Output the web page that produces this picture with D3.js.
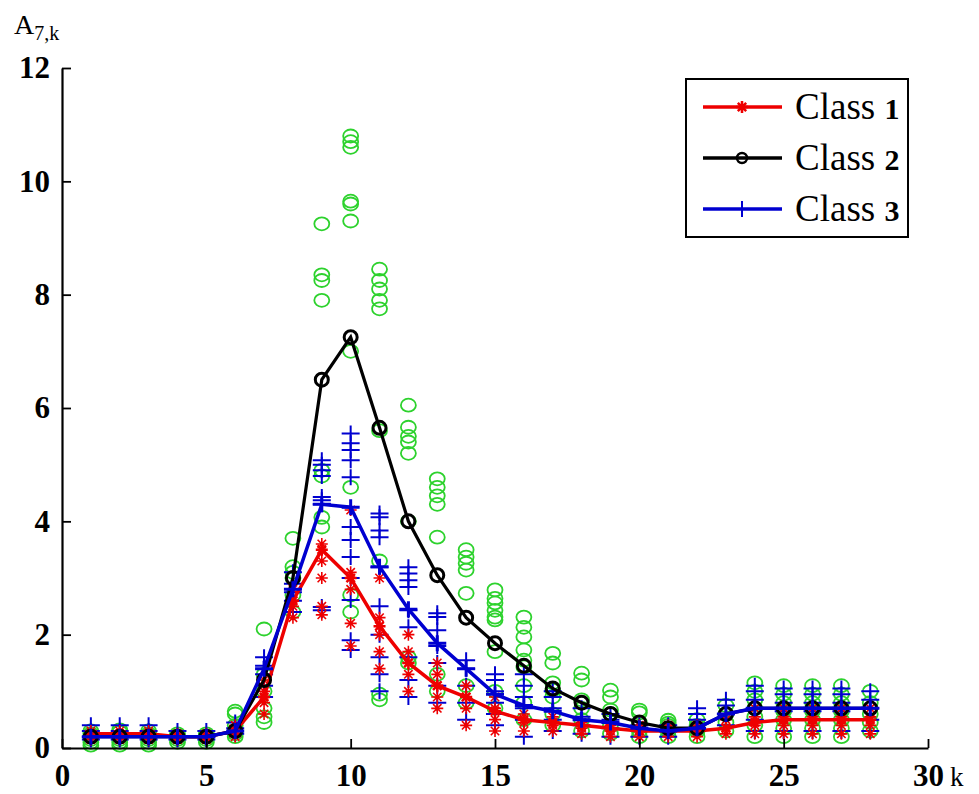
<!DOCTYPE html>
<html>
<head>
<meta charset="utf-8">
<script src="https://cdn.jsdelivr.net/npm/d3@7"></script>
<style>
  body { margin: 0; background: #fff; }
  text { font-family: "Liberation Serif", "DejaVu Serif", serif; }
</style>
</head>
<body>
<div id="chart"></div>
<script>
// k positions
const ks = d3.range(1, 29);

// class means (lines)
const mean1 = [0.25,0.25,0.25,0.2,0.2,0.3,0.9,2.6,3.5,3.0,2.15,1.5,1.1,0.9,0.65,0.5,0.45,0.4,0.35,0.3,0.3,0.3,0.35,0.45,0.5,0.5,0.5,0.5];
const mean2 = [0.2,0.2,0.2,0.2,0.2,0.3,1.2,3.0,6.5,7.25,5.65,4.0,3.05,2.3,1.85,1.45,1.05,0.8,0.6,0.45,0.35,0.35,0.6,0.7,0.7,0.7,0.7,0.7];
const mean3 = [0.2,0.2,0.2,0.2,0.2,0.3,1.4,2.8,4.3,4.25,3.2,2.45,1.85,1.4,0.95,0.75,0.65,0.5,0.45,0.35,0.3,0.35,0.6,0.7,0.7,0.7,0.7,0.7];

// individual samples per k
const samples1 = [
  [0.15,0.25,0.3],[0.15,0.25,0.3],[0.15,0.25,0.3],[0.15,0.2,0.25],[0.15,0.2,0.25],
  [0.2,0.3,0.4],[0.6,0.8,1.0,1.2],[2.3,2.5,2.6,2.8],[2.35,2.5,3.0,3.3,3.6],[1.8,2.2,2.8,3.1,4.2],
  [1.4,1.7,2.0,2.3,3.0],[1.0,1.3,1.5,1.7,2.0],[0.7,0.9,1.1,1.3,1.5],[0.4,0.7,0.9,1.1],[0.3,0.5,0.7,0.9],
  [0.3,0.45,0.6],[0.3,0.4,0.55],[0.25,0.35,0.45],[0.2,0.3,0.4],[0.2,0.3,0.4],
  [0.2,0.3,0.4],[0.2,0.3,0.4],[0.25,0.35,0.5],[0.25,0.4,0.55,0.7],[0.25,0.4,0.55,0.7],
  [0.25,0.4,0.55,0.7],[0.25,0.4,0.55,0.7],[0.25,0.4,0.55,0.7]
];
const samples2 = [
  [0.05,0.1,0.15,0.2,0.25,0.3],[0.05,0.1,0.15,0.2,0.28,0.32],[0.05,0.1,0.15,0.2,0.25,0.3],[0.1,0.15,0.2,0.25],[0.1,0.15,0.2,0.25],
  [0.2,0.25,0.3,0.4,0.6,0.65],[0.45,0.55,0.7,1.0,1.3,2.1],[2.4,2.7,3.0,3.1,3.2,3.7],[3.9,4.07,4.8,4.9,7.9,8.25,8.35,9.25],[2.4,2.7,4.6,7.0,9.3,9.6,9.65,10.6,10.7,10.8],
  [0.85,0.95,3.3,5.6,7.75,7.9,8.1,8.25,8.45],[1.5,1.6,4.0,5.2,5.4,5.5,5.66,6.05],[1.0,1.3,3.72,4.3,4.45,4.6,4.75],[0.8,1.1,2.73,3.14,3.26,3.37,3.5],[0.7,1.0,1.7,2.26,2.31,2.43,2.56,2.64,2.79],
  [0.5,0.8,1.1,1.43,1.55,1.73,1.96,2.13,2.31],[0.4,0.6,0.9,1.02,1.15,1.5,1.67],[0.3,0.5,0.7,0.85,1.2,1.32],[0.25,0.4,0.6,0.67,0.9,1.02],[0.2,0.3,0.45,0.62,0.67],
  [0.2,0.3,0.4,0.44,0.49],[0.2,0.3,0.4,0.5],[0.3,0.45,0.6,0.75],[0.2,0.4,0.55,0.7,0.85,1.0,1.15],[0.2,0.35,0.5,0.65,0.8,0.95,1.1],
  [0.2,0.35,0.5,0.65,0.8,0.95,1.1],[0.2,0.35,0.5,0.65,0.8,0.95,1.1],[0.3,0.45,0.6,0.8,1.0]
];
const samples3 = [
  [0.15,0.2,0.3,0.4],[0.15,0.2,0.3,0.4],[0.15,0.2,0.3,0.4],[0.15,0.2,0.3],[0.15,0.2,0.3],
  [0.25,0.35,0.45],[0.9,1.1,1.3,1.45,1.6],[2.4,2.6,2.75,2.9,3.1],[2.43,2.49,4.3,4.37,4.43,4.8,4.9,5.0,5.08],[1.73,1.9,2.61,3.0,3.37,3.67,3.9,4.78,5.08,5.26,5.38,5.55],
  [1.0,1.3,1.6,2.0,2.5,3.19,3.72,3.84,4.07,4.14],[0.9,1.2,1.6,2.13,2.43,2.84,2.96,3.08,3.19],[0.8,1.1,1.5,1.8,2.08,2.31,2.38],[0.5,0.8,1.1,1.4,1.55],[0.4,0.6,0.8,1.0,1.2,1.3],
  [0.2,0.5,0.7,0.9,1.1,1.3],[0.3,0.5,0.7,0.9,1.0],[0.25,0.4,0.55,0.7],[0.2,0.35,0.5,0.6],[0.2,0.3,0.4],
  [0.2,0.3,0.4],[0.3,0.5,0.6,0.7],[0.4,0.6,0.75,0.85],[0.3,0.5,0.7,0.85,1.0,1.1],[0.3,0.5,0.65,0.8,0.95,1.05],
  [0.3,0.5,0.65,0.8,0.95,1.05],[0.3,0.5,0.65,0.8,0.95,1.05],[0.3,0.5,0.7,0.85,1.0]
];

const xTicks = [0, 5, 10, 15, 20, 25, 30];
const yTicks = [0, 2, 4, 6, 8, 10, 12];
const legendLabels = ["1", "2", "3"];

const width = 979, height = 794;
const svg = d3.select("#chart").append("svg")
    .attr("width", width)
    .attr("height", height);

const x = d3.scaleLinear().domain([0, 30]).range([62, 928]);
const y = d3.scaleLinear().domain([0, 12]).range([748, 68]);

const green = "#2dd22d", blue = "#0000d0", red = "#ee0000";

// flatten samples into points
function flat(samples) {
    let pts = [];
    samples.forEach((vals, i) => vals.forEach(v => pts.push({k: ks[i], v: v})));
    return pts;
}

const scatter = svg.append("g");

// green circles (class 2 individuals)
scatter.selectAll(".c2")
    .data(flat(samples2))
    .enter().append("ellipse")
    .attr("cx", d => x(d.k))
    .attr("cy", d => y(d.v))
    .attr("rx", 7.5)
    .attr("ry", 6.5)
    .attr("fill", "none")
    .attr("stroke", green)
    .attr("stroke-width", 1.8);

// blue pluses (class 3 individuals)
const plusPath = "M-9,0H9M0,-8V8";
scatter.selectAll(".c3")
    .data(flat(samples3))
    .enter().append("path")
    .attr("transform", d => "translate(" + x(d.k) + "," + y(d.v) + ")")
    .attr("d", plusPath)
    .attr("stroke", blue)
    .attr("stroke-width", 2)
    .attr("fill", "none");

// red stars (class 1 individuals)
const star = "M-6,0H6M0,-6V6M-4.2,-4.2L4.2,4.2M-4.2,4.2L4.2,-4.2";
scatter.selectAll(".c1")
    .data(flat(samples1))
    .enter().append("path")
    .attr("transform", d => "translate(" + x(d.k) + "," + y(d.v) + ")")
    .attr("d", star)
    .attr("stroke", red)
    .attr("stroke-width", 1.6)
    .attr("fill", "none");

// mean lines
const line = d3.line().x((d, i) => x(ks[i])).y(d => y(d));

svg.append("path").datum(mean1)
    .attr("d", line).attr("fill", "none").attr("stroke", red).attr("stroke-width", 3.5);
svg.append("g").selectAll("path").data(mean1).enter().append("path")
    .attr("transform", (d, i) => "translate(" + x(ks[i]) + "," + y(d) + ")")
    .attr("d", star).attr("stroke", red).attr("stroke-width", 2.5).attr("fill", "none");

svg.append("path").datum(mean2)
    .attr("d", line).attr("fill", "none").attr("stroke", "#000").attr("stroke-width", 3.2);
svg.append("g").selectAll("circle").data(mean2).enter().append("circle")
    .attr("cx", (d, i) => x(ks[i]))
    .attr("cy", d => y(d))
    .attr("r", 6.5)
    .attr("fill", "none")
    .attr("stroke", "#000")
    .attr("stroke-width", 3);

svg.append("path").datum(mean3)
    .attr("d", line).attr("fill", "none").attr("stroke", blue).attr("stroke-width", 3.5);
svg.append("g").selectAll("path").data(mean3).enter().append("path")
    .attr("transform", (d, i) => "translate(" + x(ks[i]) + "," + y(d) + ")")
    .attr("d", plusPath).attr("stroke", blue).attr("stroke-width", 3).attr("fill", "none");

// axes
const xAxis = svg.append("g")
    .attr("transform", "translate(0," + y(0) + ")")
    .call(d3.axisBottom(x).tickValues(xTicks).tickSizeInner(-9).tickSizeOuter(0).tickPadding(13).tickFormat(d3.format("d")));
const yAxis = svg.append("g")
    .attr("transform", "translate(" + x(0) + ",0)")
    .call(d3.axisLeft(y).tickValues(yTicks).tickSizeInner(-9).tickSizeOuter(0).tickPadding(12).tickFormat(d3.format("d")));

[xAxis, yAxis].forEach(a => {
    a.select(".domain").attr("stroke", "#000").attr("stroke-width", 2.2);
    a.selectAll(".tick line").attr("stroke", "#000").attr("stroke-width", 1.8);
    a.selectAll(".tick text")
        .attr("fill", "#000")
        .style("font-family", "'Liberation Serif', serif")
        .style("font-weight", "bold")
        .style("font-size", "31px");
});
xAxis.selectAll(".tick text").attr("dy", "0.8em");

// axis labels
svg.append("text")
    .attr("x", 950).attr("y", 786)
    .style("font-size", "27px")
    .text("k");

const ylab = svg.append("text").attr("x", 14).attr("y", 34).style("font-size", "28px");
ylab.append("tspan").text("A");
ylab.append("tspan").attr("dy", 6).style("font-size", "20px").text("7,k");

// legend
const lg = svg.append("g");
lg.append("rect")
    .attr("x", 686).attr("y", 79)
    .attr("width", 222).attr("height", 158)
    .attr("fill", "#fff")
    .attr("stroke", "#000")
    .attr("stroke-width", 2);

const legendColors = [red, "#000", blue];
legendLabels.forEach((lab, i) => {
    const ly = 107 + i * 51;
    lg.append("line")
        .attr("x1", 703).attr("x2", 782)
        .attr("y1", ly).attr("y2", ly)
        .attr("stroke", legendColors[i]).attr("stroke-width", 3.5);
    const mk = lg.append("g").attr("transform", "translate(742," + ly + ")");
    if (i === 0) mk.append("path").attr("d", star).attr("stroke", red).attr("stroke-width", 2.5);
    if (i === 1) mk.append("circle").attr("r", 5).attr("fill", "none").attr("stroke", "#000").attr("stroke-width", 2.5);
    if (i === 2) mk.append("path").attr("d", plusPath).attr("stroke", blue).attr("stroke-width", 2);
    const t = lg.append("text").attr("x", 795).attr("y", ly + 12).style("font-size", "37px");
    t.append("tspan").text("Class ");
    t.append("tspan").style("font-weight", "bold").style("font-size", "30px").text(lab);
});
</script>
</body>
</html>
